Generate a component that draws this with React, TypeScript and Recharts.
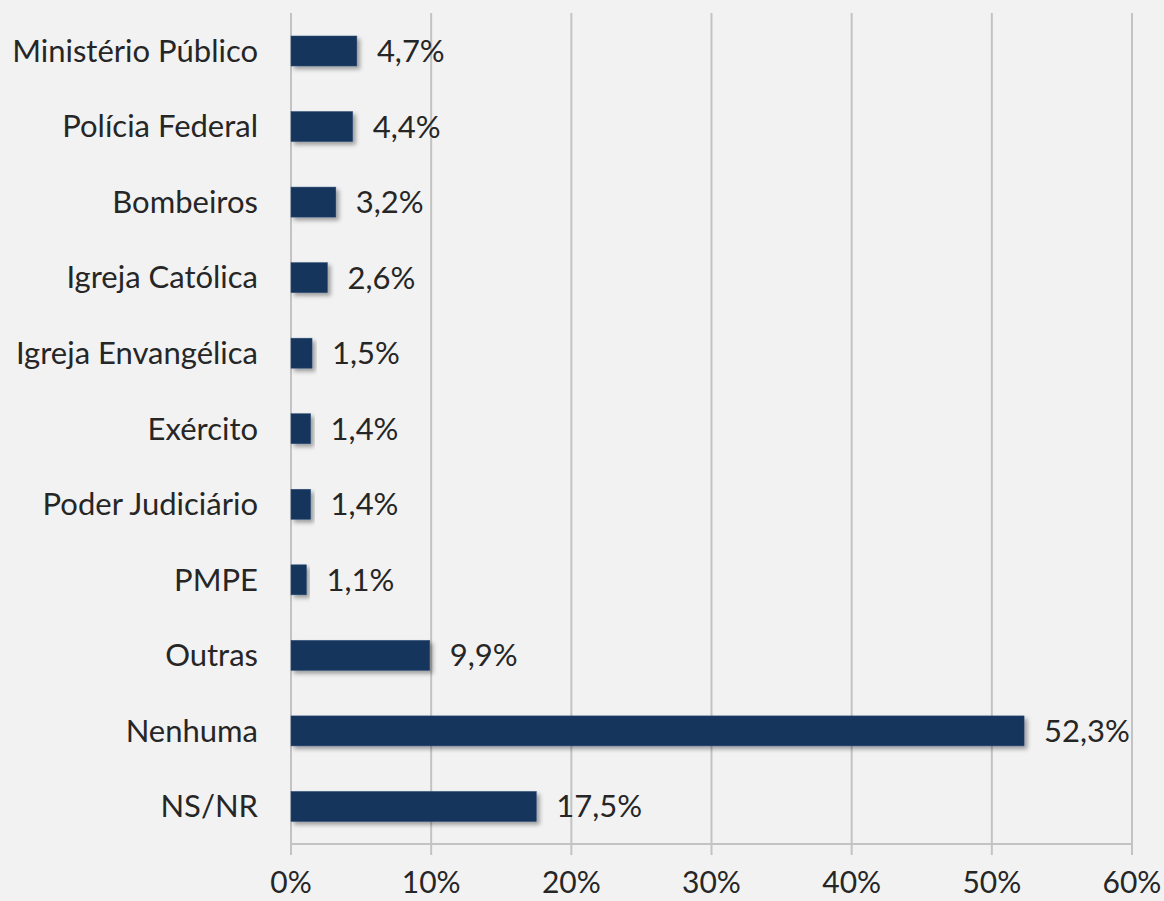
import { BarChart, Bar, XAxis, YAxis, CartesianGrid, LabelList } from "recharts";

const categories = [
  "Ministério Público",
  "Polícia Federal",
  "Bombeiros",
  "Igreja Católica",
  "Igreja Envangélica",
  "Exército",
  "Poder Judiciário",
  "PMPE",
  "Outras",
  "Nenhuma",
  "NS/NR",
];
const shares = [4.7, 4.4, 3.2, 2.6, 1.5, 1.4, 1.4, 1.1, 9.9, 52.3, 17.5];
const xTicks = [0, 10, 20, 30, 40, 50, 60];
// boundaries between the rows, for the Excel-style tick marks
const rowEdges = [0, 1, 2, 3, 4, 5, 6, 7, 8, 9, 10, 11];

const data = categories.map((name, i) => ({ name, value: shares[i] }));

const axisGray = "#c3c3c3";
const textColor = "#262626";
const barColor = "#17365d";
const fontSize = 31;

const fmtPct = (v: number) => `${v.toFixed(1).replace(".", ",")}%`;

const ShadowBar = (props: any) => {
  const { x, y, width, height } = props;
  return (
    <rect
      x={x}
      y={y}
      width={width}
      height={height}
      fill={barColor}
      stroke="#2a4a75"
      strokeWidth={0.5}
      filter="url(#barShadow)"
    />
  );
};

export default function App() {
  return (
    <div
      style={{
        position: "absolute",
        left: 0,
        top: 0,
        width: 1164,
        height: 901,
        background: "#f2f2f2",
        fontFamily: "Lato, 'Open Sans', sans-serif",
      }}
    >
      <BarChart
        width={1164}
        height={901}
        data={data}
        layout="vertical"
        margin={{ top: 13, right: 32, bottom: 0, left: 0 }}
      >
        <defs>
          <filter id="barShadow" x="-10%" y="-30%" width="130%" height="180%">
            <feDropShadow dx="3" dy="3" stdDeviation="2" floodColor="#000" floodOpacity="0.35" />
          </filter>
        </defs>
        <CartesianGrid horizontal={false} stroke={axisGray} strokeWidth={2} />
        <XAxis
          type="number"
          domain={[0, 60]}
          ticks={xTicks}
          tickFormatter={(v) => `${v}%`}
          height={57}
          tickSize={11}
          tickMargin={17}
          axisLine={{ stroke: axisGray, strokeWidth: 2 }}
          tickLine={{ stroke: axisGray, strokeWidth: 2 }}
          tick={{ fill: textColor, fontSize: 30 }}
          interval={0}
        />
        <YAxis
          yAxisId="cat"
          type="category"
          dataKey="name"
          width={291}
          axisLine={false}
          tickLine={false}
          tickSize={0}
          tickMargin={33}
          tick={{ fill: textColor, fontSize }}
          interval={0}
        />
        <YAxis
          yAxisId="edges"
          type="number"
          domain={[0, 11]}
          ticks={rowEdges}
          width={0}
          tick={false}
          tickSize={11}
          axisLine={{ stroke: axisGray, strokeWidth: 2 }}
          tickLine={{ stroke: axisGray, strokeWidth: 2 }}
          interval={0}
        />
        <Bar
          yAxisId="cat"
          dataKey="value"
          barSize={30}
          shape={ShadowBar}
          isAnimationActive={false}
        >
          <LabelList
            dataKey="value"
            position="right"
            offset={20}
            formatter={(v: any) => fmtPct(Number(v))}
            fill={textColor}
            fontSize={fontSize}
          />
        </Bar>
      </BarChart>
    </div>
  );
}
